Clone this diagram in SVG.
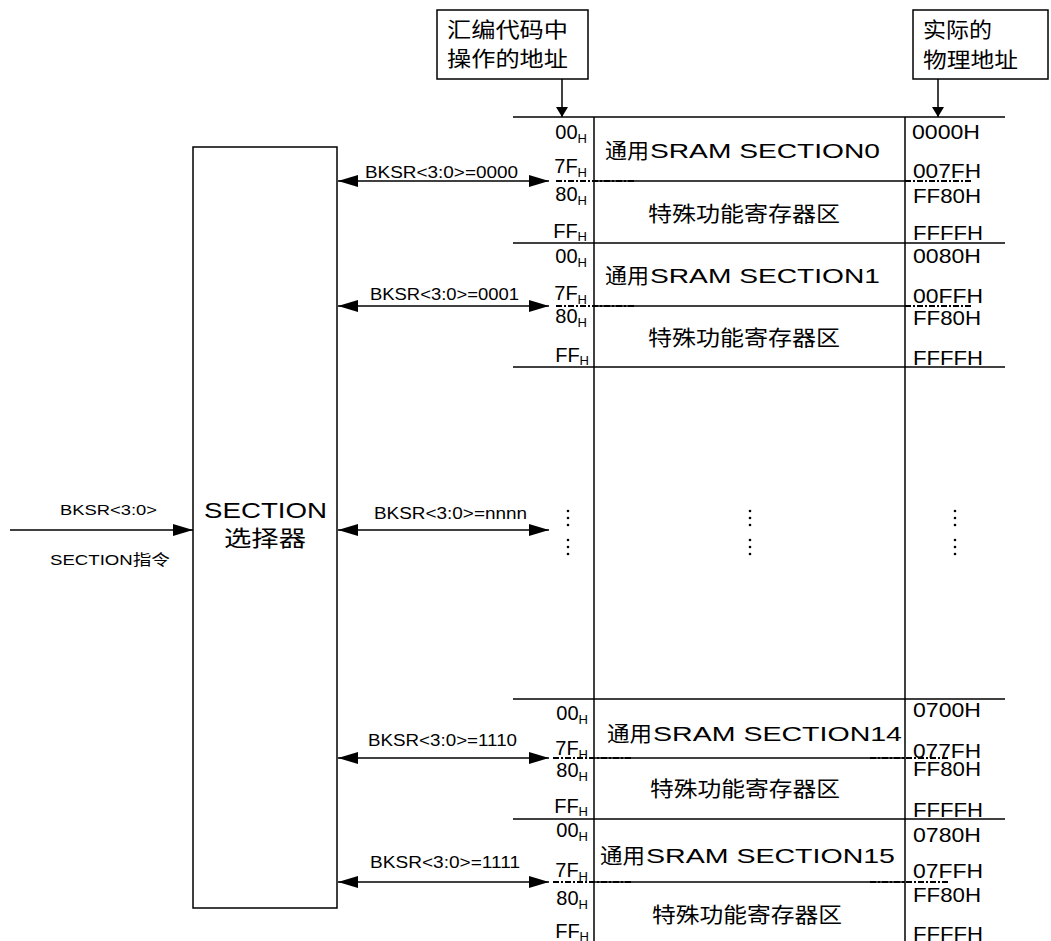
<svg xmlns="http://www.w3.org/2000/svg" width="1051" height="941" viewBox="0 0 1051 941">
<style>
  .ln{stroke:#000;stroke-width:1.5;fill:none}
  .dd{stroke:#000;stroke-width:1.8;fill:none;stroke-dasharray:6 2 2 2}
  .lat{font-family:"Liberation Sans",Arial,sans-serif;fill:#000}
  .cjk{font-family:"Noto Sans CJK SC","Noto Sans",sans-serif;fill:#000}
  .mix{font-family:"Liberation Sans","Noto Sans CJK SC",sans-serif;fill:#000}
  .addr{font-size:20px}
  .sub{font-size:13px}
  .row{font-size:16px}
  .big{font-size:22px}
  .zone{font-size:21px}
</style>
<defs>
  <marker id="ah" viewBox="0 0 20 12" refX="20" refY="6" markerWidth="20" markerHeight="12" markerUnits="userSpaceOnUse" orient="auto-start-reverse">
    <path d="M0,0 L20,6 L0,12 Z" fill="#000"/>
  </marker>
  <marker id="ahs" viewBox="0 0 10 12" refX="10" refY="6" markerWidth="10" markerHeight="12" markerUnits="userSpaceOnUse" orient="auto">
    <path d="M0,0 L10,6 L0,12 Z" fill="#000"/>
  </marker>
</defs>

<!-- label boxes -->
<g id="label-asm">
  <rect class="ln" x="437" y="10" width="151" height="69"/>
  <text class="cjk" x="447" y="37" font-size="21" textLength="121" lengthAdjust="spacingAndGlyphs">汇编代码中</text>
  <text class="cjk" x="447" y="66" font-size="21" textLength="121" lengthAdjust="spacingAndGlyphs">操作的地址</text>
</g>
<g id="label-phys">
  <rect class="ln" x="913" y="10" width="135" height="69"/>
  <text class="cjk" x="923" y="37" font-size="21" textLength="69" lengthAdjust="spacingAndGlyphs">实际的</text>
  <text class="cjk" x="923" y="67" font-size="21" textLength="95" lengthAdjust="spacingAndGlyphs">物理地址</text>
</g>

<!-- selector -->
<g id="selector">
  <rect class="ln" x="193" y="147" width="144" height="761"/>
  <text class="lat big" x="204" y="518" textLength="123" lengthAdjust="spacingAndGlyphs">SECTION</text>
  <text class="cjk" x="224" y="546" font-size="22" textLength="82" lengthAdjust="spacingAndGlyphs">选择器</text>
</g>

<!-- memory table frame -->
<g id="table">
  <line class="ln" x1="594" y1="117" x2="594" y2="941"/>
  <line class="ln" x1="905" y1="117" x2="905" y2="941"/>
  <line class="ln" x1="513" y1="117" x2="1005" y2="117"/>
  <line class="ln" x1="513" y1="243" x2="1005" y2="243"/>
  <line class="ln" x1="513" y1="367" x2="1005" y2="367"/>
  <line class="ln" x1="513" y1="699" x2="1005" y2="699"/>
  <line class="ln" x1="513" y1="819" x2="1005" y2="819"/>
</g>

<!-- section 0 -->
<g id="section0">
  <line class="ln" x1="594" y1="181" x2="905" y2="181"/>
  <line class="dd" x1="556" y1="181" x2="636" y2="181"/>
  <line class="dd" x1="905" y1="181" x2="972" y2="181"/>
  <text class="lat addr" x="587" y="139" text-anchor="end">00<tspan class="sub" dy="4">H</tspan></text>
  <text class="lat addr" x="587" y="173" text-anchor="end">7F<tspan class="sub" dy="4">H</tspan></text>
  <text class="lat addr" x="587" y="201" text-anchor="end">80<tspan class="sub" dy="4">H</tspan></text>
  <text class="lat addr" x="587" y="238" text-anchor="end">FF<tspan class="sub" dy="3">H</tspan></text>
  <text class="cjk zone" x="605" y="158" textLength="44" lengthAdjust="spacingAndGlyphs">通用</text>
  <text class="lat zone" x="650" y="158" textLength="230" lengthAdjust="spacingAndGlyphs">SRAM SECTION0</text>
  <text class="cjk zone" x="648" y="221" textLength="192" lengthAdjust="spacingAndGlyphs">特殊功能寄存器区</text>
  <text class="lat addr" x="912" y="139" textLength="68" lengthAdjust="spacingAndGlyphs">0000H</text>
  <text class="lat addr" x="913" y="178" textLength="68" lengthAdjust="spacingAndGlyphs">007FH</text>
  <text class="lat addr" x="913" y="203" textLength="68" lengthAdjust="spacingAndGlyphs">FF80H</text>
  <text class="lat addr" x="913" y="240" textLength="70" lengthAdjust="spacingAndGlyphs">FFFFH</text>
</g>

<!-- section 1 -->
<g id="section1">
  <line class="ln" x1="594" y1="306" x2="905" y2="306"/>
  <line class="dd" x1="556" y1="306" x2="636" y2="306"/>
  <line class="dd" x1="905" y1="306" x2="972" y2="306"/>
  <text class="lat addr" x="587" y="263" text-anchor="end">00<tspan class="sub" dy="4">H</tspan></text>
  <text class="lat addr" x="587" y="300" text-anchor="end">7F<tspan class="sub" dy="4">H</tspan></text>
  <text class="lat addr" x="587" y="323" text-anchor="end">80<tspan class="sub" dy="4">H</tspan></text>
  <text class="lat addr" x="589" y="362" text-anchor="end">FF<tspan class="sub" dy="3">H</tspan></text>
  <text class="cjk zone" x="605" y="283" textLength="44" lengthAdjust="spacingAndGlyphs">通用</text>
  <text class="lat zone" x="650" y="283" textLength="230" lengthAdjust="spacingAndGlyphs">SRAM SECTION1</text>
  <text class="cjk zone" x="648" y="345" textLength="192" lengthAdjust="spacingAndGlyphs">特殊功能寄存器区</text>
  <text class="lat addr" x="913" y="263" textLength="68" lengthAdjust="spacingAndGlyphs">0080H</text>
  <text class="lat addr" x="913" y="303" textLength="70" lengthAdjust="spacingAndGlyphs">00FFH</text>
  <text class="lat addr" x="913" y="325" textLength="68" lengthAdjust="spacingAndGlyphs">FF80H</text>
  <text class="lat addr" x="913" y="365" textLength="70" lengthAdjust="spacingAndGlyphs">FFFFH</text>
</g>

<!-- ellipsis -->
<g id="ellipsis" fill="#000">
  <circle cx="568" cy="511" r="1.3"/><circle cx="568" cy="518" r="1.3"/><circle cx="568" cy="525" r="1.3"/>
  <circle cx="568" cy="540" r="1.3"/><circle cx="568" cy="547" r="1.3"/><circle cx="568" cy="554" r="1.3"/>
  <circle cx="750" cy="511" r="1.3"/><circle cx="750" cy="518" r="1.3"/><circle cx="750" cy="525" r="1.3"/>
  <circle cx="750" cy="540" r="1.3"/><circle cx="750" cy="547" r="1.3"/><circle cx="750" cy="554" r="1.3"/>
  <circle cx="955" cy="511" r="1.3"/><circle cx="955" cy="518" r="1.3"/><circle cx="955" cy="525" r="1.3"/>
  <circle cx="955" cy="540" r="1.3"/><circle cx="955" cy="547" r="1.3"/><circle cx="955" cy="554" r="1.3"/>
</g>

<!-- section 14 -->
<g id="section14">
  <line class="ln" x1="594" y1="758" x2="905" y2="758"/>
  <line class="dd" x1="553" y1="758" x2="633" y2="758"/>
  <line class="dd" x1="870" y1="758" x2="950" y2="758"/>
  <text class="lat addr" x="588" y="720" text-anchor="end">00<tspan class="sub" dy="4">H</tspan></text>
  <text class="lat addr" x="588" y="755" text-anchor="end">7F<tspan class="sub" dy="4">H</tspan></text>
  <text class="lat addr" x="588" y="777" text-anchor="end">80<tspan class="sub" dy="4">H</tspan></text>
  <text class="lat addr" x="588" y="813" text-anchor="end">FF<tspan class="sub" dy="3">H</tspan></text>
  <text class="cjk zone" x="607" y="741" textLength="45" lengthAdjust="spacingAndGlyphs">通用</text>
  <text class="lat zone" x="653" y="741" textLength="249" lengthAdjust="spacingAndGlyphs">SRAM SECTION14</text>
  <text class="cjk zone" x="650" y="796" textLength="190" lengthAdjust="spacingAndGlyphs">特殊功能寄存器区</text>
  <text class="lat addr" x="913" y="717" textLength="68" lengthAdjust="spacingAndGlyphs">0700H</text>
  <text class="lat addr" x="913" y="758" textLength="68" lengthAdjust="spacingAndGlyphs">077FH</text>
  <text class="lat addr" x="913" y="776" textLength="68" lengthAdjust="spacingAndGlyphs">FF80H</text>
  <text class="lat addr" x="913" y="817" textLength="70" lengthAdjust="spacingAndGlyphs">FFFFH</text>
</g>

<!-- section 15 -->
<g id="section15">
  <line class="ln" x1="594" y1="882" x2="905" y2="882"/>
  <line class="dd" x1="553" y1="882" x2="633" y2="882"/>
  <line class="dd" x1="870" y1="882" x2="948" y2="882"/>
  <text class="lat addr" x="588" y="837" text-anchor="end">00<tspan class="sub" dy="4">H</tspan></text>
  <text class="lat addr" x="588" y="877" text-anchor="end">7F<tspan class="sub" dy="4">H</tspan></text>
  <text class="lat addr" x="588" y="905" text-anchor="end">80<tspan class="sub" dy="4">H</tspan></text>
  <text class="lat addr" x="589" y="938" text-anchor="end">FF<tspan class="sub" dy="3">H</tspan></text>
  <text class="cjk zone" x="600" y="863" textLength="45" lengthAdjust="spacingAndGlyphs">通用</text>
  <text class="lat zone" x="646" y="863" textLength="249" lengthAdjust="spacingAndGlyphs">SRAM SECTION15</text>
  <text class="cjk zone" x="652" y="922" textLength="190" lengthAdjust="spacingAndGlyphs">特殊功能寄存器区</text>
  <text class="lat addr" x="913" y="842" textLength="68" lengthAdjust="spacingAndGlyphs">0780H</text>
  <text class="lat addr" x="913" y="878" textLength="70" lengthAdjust="spacingAndGlyphs">07FFH</text>
  <text class="lat addr" x="913" y="902" textLength="68" lengthAdjust="spacingAndGlyphs">FF80H</text>
  <text class="lat addr" x="913" y="941" textLength="70" lengthAdjust="spacingAndGlyphs">FFFFH</text>
</g>

<!-- connectors -->
<g id="connectors">
  <line class="ln" x1="562" y1="79" x2="562" y2="117" marker-end="url(#ahs)"/>
  <line class="ln" x1="938" y1="79" x2="938" y2="117" marker-end="url(#ahs)"/>
  <line class="ln" x1="10" y1="530" x2="193" y2="530" marker-end="url(#ah)"/>
  <line class="ln" x1="338" y1="181" x2="549" y2="181" marker-start="url(#ah)" marker-end="url(#ah)"/>
  <line class="ln" x1="338" y1="306" x2="549" y2="306" marker-start="url(#ah)" marker-end="url(#ah)"/>
  <line class="ln" x1="338" y1="530" x2="549" y2="530" marker-start="url(#ah)" marker-end="url(#ah)"/>
  <line class="ln" x1="338" y1="758" x2="549" y2="758" marker-start="url(#ah)" marker-end="url(#ah)"/>
  <line class="ln" x1="338" y1="882" x2="549" y2="882" marker-start="url(#ah)" marker-end="url(#ah)"/>
  <text class="lat row" x="365" y="178" textLength="153" lengthAdjust="spacingAndGlyphs">BKSR&lt;3:0&gt;=0000</text>
  <text class="lat row" x="370" y="300" textLength="149" lengthAdjust="spacingAndGlyphs">BKSR&lt;3:0&gt;=0001</text>
  <text class="lat row" x="374" y="519" textLength="153" lengthAdjust="spacingAndGlyphs">BKSR&lt;3:0&gt;=nnnn</text>
  <text class="lat row" x="368" y="746" textLength="149" lengthAdjust="spacingAndGlyphs">BKSR&lt;3:0&gt;=1110</text>
  <text class="lat row" x="370" y="868" textLength="150" lengthAdjust="spacingAndGlyphs">BKSR&lt;3:0&gt;=1111</text>
  <text class="lat" x="60" y="515" font-size="15" textLength="97" lengthAdjust="spacingAndGlyphs">BKSR&lt;3:0&gt;</text>
  <text class="mix" x="50" y="565" font-size="15" textLength="120" lengthAdjust="spacingAndGlyphs">SECTION指令</text>
</g>
</svg>
